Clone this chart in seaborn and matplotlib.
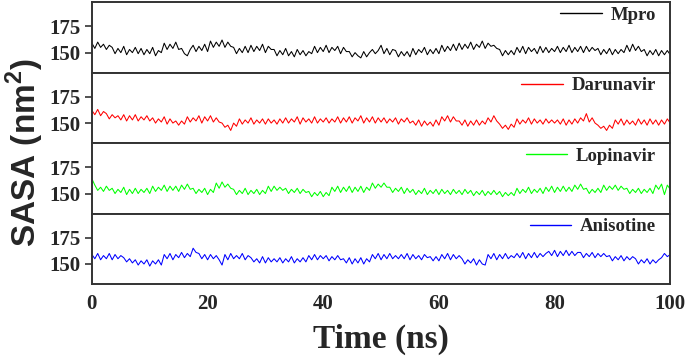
import numpy as np
import matplotlib
matplotlib.use("Agg")
import matplotlib.pyplot as plt
import pandas as pd
import seaborn as sns

time_ns = np.arange(0, 100.5, 0.5)

mpro = [
    159, 154, 160, 155, 158, 153, 157,
    155, 149, 154, 150, 156, 148, 153, 150, 155, 149,
    154, 148, 153, 149, 155, 147, 152, 150,
    159, 153, 158, 154, 160, 153,
    154, 149, 147, 153,
    157, 151, 156, 152, 158, 151,
    161, 155, 160, 156, 162, 155, 160, 156,
    155, 149, 154, 150, 156, 150,
    157, 151, 156, 152, 158, 150, 156, 153,
    153, 147, 152, 148, 154, 147, 151, 146, 153, 148, 152, 147, 151, 149,
    156, 150, 155, 151, 157, 150, 155, 152, 156, 149, 155, 151,
    151, 146, 150, 147, 145, 151, 146, 150,
    153, 149, 152, 157, 149, 154, 148, 153,
    152, 146, 151, 147, 151, 146,
    154, 148, 153, 150, 155, 148, 153, 149, 154, 149,
    157, 151, 156, 152, 158, 152,
    159, 153, 158, 154, 160, 153, 158, 155, 161, 154, 159, 156, 157, 154,
    153, 147, 152, 148, 152, 148,
    155, 150, 156, 149, 155, 151, 154, 149, 156, 150, 155, 150, 154, 151,
    156, 150, 155, 151, 157, 150, 155, 151, 156, 150, 156, 151, 155, 152,
    154, 148, 153, 149, 154, 148, 153, 149, 153, 150,
    157, 151, 158, 152, 156, 151,
    153, 147, 152, 148, 153, 147, 152, 148, 152, 148,
]

darunavir = [
    162, 158, 163, 157, 161,
    159, 154, 158, 155, 157, 153,
    158, 152, 157, 153, 158, 152, 156, 153, 157, 152,
    155, 150, 154, 151, 156, 149, 154, 150,
    152, 148, 152, 149,
    156, 151, 155, 152, 157, 150, 156, 152, 157, 151, 155, 151,
    150, 146, 148, 143, 150, 147,
    154, 149, 153, 150, 155, 149, 153, 150, 154, 149, 154, 150, 153, 149, 154, 150,
    155, 150, 154, 151, 156, 149, 155, 151, 154, 150, 156, 150, 154, 151, 155, 150, 154, 151, 156, 150,
    155, 151, 156, 150, 155, 152, 157, 150, 155, 151, 156, 150, 155, 151,
    155, 150, 154, 151, 155, 149, 154, 151, 155, 150,
    152, 148, 153, 147, 152, 148, 151, 147, 153, 148,
    156, 152, 157, 151, 156, 152,
    152, 148, 153, 147, 152, 148, 153, 148, 152, 149,
    155, 151, 157, 152,
    149, 145, 148, 144, 149, 146,
    154, 149, 153, 150, 155, 149, 154, 150, 153, 149, 154, 150, 153, 150,
    153, 149, 154, 148, 153, 149, 154, 150,
    155, 152, 159, 151, 155, 150,
    148, 145, 147, 143, 148, 145,
    153, 149, 154, 148, 153, 149, 152, 148, 154, 149, 153, 148, 154, 149, 153, 148, 153, 149, 154, 150,
]

lopinavir = [
    164,
    158, 153, 156, 152, 157, 153,
    155, 150, 154, 151, 156, 149, 154, 150, 155, 150, 154, 151, 155, 150,
    157, 152, 156, 153, 158, 152, 157, 153, 157, 152,
    158, 154, 159, 154,
    155, 150, 154, 151, 155, 149, 154, 151,
    160, 155, 161, 156, 159, 155,
    154, 149, 153, 150, 155, 149, 153, 150, 154, 149, 153, 150,
    157, 152, 157, 153, 156, 153,
    155, 150, 154, 151, 155, 150, 154, 151,
    152, 147, 151, 148, 152, 147, 151, 148,
    156, 152, 157, 151, 156, 152, 157, 151, 156, 152, 157, 151, 156, 153,
    160, 155, 159, 156, 160, 156,
    156, 151, 155, 152, 156, 150, 155, 151,
    154, 149, 153, 150, 155, 149, 153, 150, 154, 149, 154, 150, 153, 149, 154, 150, 153, 149, 154, 150,
    153, 148, 152, 149, 153, 148, 152, 149, 153, 149,
    152, 147, 151, 148, 151, 148,
    155, 150, 154, 151, 156, 150, 154, 151, 155, 150,
    156, 152, 157, 151, 156, 152, 157, 152, 156, 152,
    158, 154, 159, 154,
    155, 150, 154, 151, 155, 151,
    158, 153, 157, 154, 158, 153, 157, 154,
    155, 150, 154, 151, 155, 150, 154, 151, 155, 150,
    158, 154, 159, 149, 158, 154,
]

anisotine = [
    159, 155, 160, 154, 158, 155, 160, 154, 159, 155, 158,
    156, 152, 155, 151,
    154, 149, 153, 150, 154, 148, 153, 150, 154, 149,
    159, 155, 160, 154, 159, 156,
    161, 156, 160, 157,
    165, 161,
    160, 155, 159, 154, 159, 155, 158, 154,
    149,
    159, 154, 160, 155, 158, 155, 160, 154, 158,
    156, 152, 155, 151, 157, 151, 156, 152, 155, 152,
    156, 151, 155, 152, 157, 151, 155, 152, 156, 152,
    158, 154, 159, 154, 158, 155,
    158, 153, 157, 154, 158, 154,
    155, 151, 156, 150, 155, 151, 156, 150, 155, 152,
    159, 155, 160, 154, 159, 155, 160, 155, 158, 155,
    159, 155, 160, 154, 159, 155, 158, 154, 159, 156,
    157, 153, 157, 153,
    159, 155, 160, 154, 159, 155, 158,
    155, 150, 154, 151, 155, 149, 154, 150, 149,
    159, 155, 160, 154, 159, 155, 160, 155, 158, 156,
    160, 156, 161, 155, 160, 156, 161, 156, 160, 157, 160,
    162, 158, 163, 157, 162, 158, 163, 158, 162, 158, 161,
    161, 156, 160, 157, 161, 156, 160, 157, 160, 157,
    158, 153, 157, 154, 158, 153, 157, 154, 157,
    155, 150, 154, 151, 155, 150, 154, 151, 154,
    156, 160, 157, 159,
]

systems = ["Mpro", "Darunavir", "Lopinavir", "Anisotine"]
colors = ["#000000", "#ff0000", "#00ff00", "#0000ff"]
series = [mpro, darunavir, lopinavir, anisotine]

# %% plot
sns.set_style("ticks")
plt.rcParams["font.family"] = ["Liberation Serif", "DejaVu Serif"]
plt.rcParams["font.weight"] = "bold"
plt.rcParams["mathtext.fontset"] = "custom"
plt.rcParams["mathtext.bf"] = "Liberation Sans:bold"
plt.rcParams["mathtext.rm"] = "Liberation Sans:bold"

fig, axes = plt.subplots(4, 1, figsize=(6.86, 3.59), dpi=100, sharex=True)
fig.subplots_adjust(left=0.134, right=0.977, top=0.994, bottom=0.209, hspace=0)

for ax, name, col, vals in zip(axes, systems, colors, series):
    df = pd.DataFrame({"time": time_ns, "sasa": vals})
    sns.lineplot(data=df, x="time", y="sasa", color=col, linewidth=0.75, label=name, ax=ax)
    ax.set_xlim(0, 100)
    ax.set_ylim(131, 198)
    ax.set_yticks([150, 175])
    ax.set_xlabel("")
    ax.set_ylabel("")
    for s in ax.spines.values():
        s.set_linewidth(1.4)
        s.set_color("#333333")
    ax.tick_params(axis="y", length=5, width=1.2, color="#333333", labelsize=15, pad=3)
    ax.tick_params(axis="x", length=0, labelsize=15, pad=7)
    leg = ax.legend(loc="upper right", bbox_to_anchor=(0.984, 1.0), frameon=False,
                    handlelength=2.2, handletextpad=0.5, borderaxespad=0.0, borderpad=0.25,
                    prop={"family": "Liberation Serif", "weight": "bold", "size": 13.5})
    for h in leg.get_lines():
        h.set_linewidth(1.0)

axes[-1].set_xticks([0, 20, 40, 60, 80, 100])
axes[-1].set_xlabel("Time (ns)", fontsize=24, fontweight="bold", labelpad=7)
fig.text(0.037, 0.575, r"SASA (nm$^{\mathbf{2}}$)", rotation=90, ha="center", va="center",
         fontsize=24, fontweight="bold", family="Liberation Sans")

fig.savefig("out.png", dpi=100)
